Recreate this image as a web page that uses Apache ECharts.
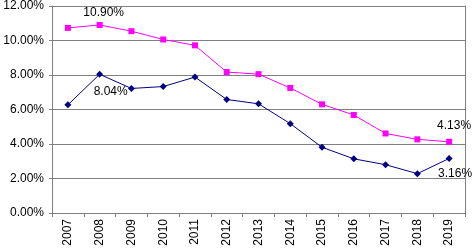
<!DOCTYPE html>
<html>
<head>
<meta charset="utf-8">
<script src="https://cdn.jsdelivr.net/npm/echarts@6/dist/echarts.min.js"></script>
<style>
  html, body { margin: 0; padding: 0; background: #fff; }
  #chart { width: 474px; height: 252px; }
</style>
</head>
<body>
<div id="chart"></div>
<script>
const years = ['2007', '2008', '2009', '2010', '2011', '2012', '2013', '2014', '2015', '2016', '2017', '2018', '2019'];
// percent values
const pinkSeries = [10.73, 10.90, 10.54, 10.06, 9.72, 8.17, 8.05, 7.25, 6.30, 5.68, 4.61, 4.27, 4.13];
const navySeries = [6.27, 8.04, 7.22, 7.33, 7.88, 6.58, 6.33, 5.18, 3.81, 3.14, 2.80, 2.28, 3.16];
const yTicks = { min: 0, max: 12, interval: 2 };

const pct = v => v.toFixed(2) + '%';
const labelFont = { fontFamily: 'Liberation Sans, Arial, sans-serif', fontSize: 12, color: '#000' };

const chart = echarts.init(document.getElementById('chart'));

chart.setOption({
  animation: false,
  grid: { left: 52, right: 9, top: 4, bottom: 39 },
  xAxis: {
    type: 'category',
    data: years,
    boundaryGap: true,
    axisLine: { lineStyle: { color: '#808080', width: 1 } },
    axisTick: { show: true, length: 4, alignWithLabel: false, lineStyle: { color: '#808080' } },
    axisLabel: Object.assign({ rotate: 90, margin: 6 }, labelFont)
  },
  yAxis: [
    {
      type: 'value',
      min: yTicks.min,
      max: yTicks.max,
      interval: yTicks.interval,
      axisLine: { show: true, lineStyle: { color: '#808080', width: 1 } },
      axisTick: { show: true, length: 3, lineStyle: { color: '#808080' } },
      splitLine: { lineStyle: { color: '#808080', width: 1 } },
      axisLabel: Object.assign({ margin: 8, formatter: v => pct(v) }, labelFont)
    },
    {
      type: 'value',
      position: 'right',
      min: yTicks.min,
      max: yTicks.max,
      interval: yTicks.interval,
      axisLine: { show: true, lineStyle: { color: '#808080', width: 1 } },
      axisTick: { show: false },
      axisLabel: { show: false },
      splitLine: { show: false }
    }
  ],
  series: [
    {
      name: 'pink',
      type: 'line',
      data: pinkSeries.map((v, i) => {
        const d = { value: v };
        if (i === 1) d.label = { show: true, position: 'top', offset: [4, 3], distance: 6 };
        if (i === pinkSeries.length - 1) d.label = { show: true, position: 'top', offset: [5, -1], distance: 6 };
        return d;
      }),
      symbol: 'rect',
      symbolSize: 6,
      lineStyle: { color: '#ff00ff', width: 1 },
      itemStyle: { color: '#ff00ff' },
      label: Object.assign({ show: false, formatter: p => pct(p.value) }, labelFont)
    },
    {
      name: 'navy',
      type: 'line',
      data: navySeries.map((v, i) => {
        const d = { value: v };
        if (i === 1) d.label = { show: true, position: 'bottom', offset: [11, 0], distance: 8 };
        if (i === navySeries.length - 1) d.label = { show: true, position: 'bottom', offset: [6, 1], distance: 5 };
        return d;
      }),
      symbol: 'diamond',
      symbolSize: 7,
      lineStyle: { color: '#000080', width: 1 },
      itemStyle: { color: '#000080' },
      label: Object.assign({ show: false, formatter: p => pct(p.value) }, labelFont)
    }
  ]
});
</script>
</body>
</html>
